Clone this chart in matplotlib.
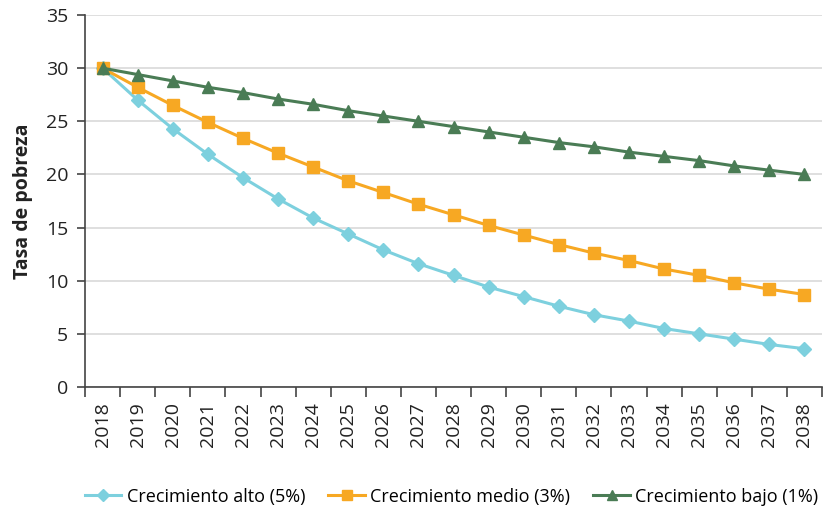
import matplotlib
matplotlib.use("Agg")
import matplotlib.pyplot as plt
import numpy as np

plt.rcParams['font.family'] = ['Open Sans', 'DejaVu Sans']

years = [str(y) for y in range(2018, 2039)]
alto = [30.0, 27.0, 24.3, 21.9, 19.7, 17.7, 15.9, 14.4, 12.9, 11.6, 10.5,
        9.4, 8.5, 7.6, 6.8, 6.2, 5.5, 5.0, 4.5, 4.0, 3.6]
medio = [30.0, 28.2, 26.5, 24.9, 23.4, 22.0, 20.7, 19.4, 18.3, 17.2, 16.2,
         15.2, 14.3, 13.4, 12.6, 11.9, 11.1, 10.5, 9.8, 9.2, 8.7]
bajo = [30.0, 29.4, 28.8, 28.2, 27.7, 27.1, 26.6, 26.0, 25.5, 25.0, 24.5,
        24.0, 23.5, 23.0, 22.6, 22.1, 21.7, 21.3, 20.8, 20.4, 20.0]
series_names = ["Crecimiento alto (5%)", "Crecimiento medio (3%)", "Crecimiento bajo (1%)"]

fig = plt.figure(figsize=(8.24, 5.11), dpi=100)
ax = fig.add_axes([0.1032, 0.2427, 0.8944, 0.7279])

x = np.arange(len(years))
ax.plot(x, alto, color='#7dd0de', lw=2.2, marker='D', ms=7, label=series_names[0], zorder=3)
ax.plot(x, medio, color='#f7a823', lw=2.2, marker='s', ms=8, label=series_names[1], zorder=3)
ax.plot(x, bajo, color='#4a7c55', lw=2.2, marker='^', ms=8, label=series_names[2], zorder=3)

ax.set_xlim(-0.5, len(years) - 0.5)
ax.set_ylim(0, 35)
ax.set_yticks(np.arange(0, 36, 5))
ax.yaxis.grid(True, color='#d9d9d9', lw=1.2)
ax.set_axisbelow(True)

ax.set_xticks(x)
ax.set_xticklabels(years, rotation=90, fontsize=14, color='#222222')
ax.set_xticks(np.arange(-0.5, len(years), 1), minor=True)
ax.tick_params(axis='x', which='major', length=0, pad=11)
ax.tick_params(axis='x', which='minor', length=7, width=1.2, color='#444444')
ax.tick_params(axis='y', length=6, width=1.2, color='#444444', labelsize=14,
               labelcolor='#222222', pad=6)

for s in ['top', 'right']:
    ax.spines[s].set_visible(False)
for s in ['left', 'bottom']:
    ax.spines[s].set_color('#444444')
    ax.spines[s].set_linewidth(1.2)

ax.set_ylabel("Tasa de pobreza", fontsize=14, fontweight='bold', color='#222222', labelpad=9)

fig.legend(loc='center', bbox_to_anchor=(0.548, 0.028), ncol=3, frameon=False,
           fontsize=13, handlelength=2.0, handletextpad=0.3, columnspacing=1.3,
           markerscale=0.9)

fig.savefig("out.png", dpi=100)
